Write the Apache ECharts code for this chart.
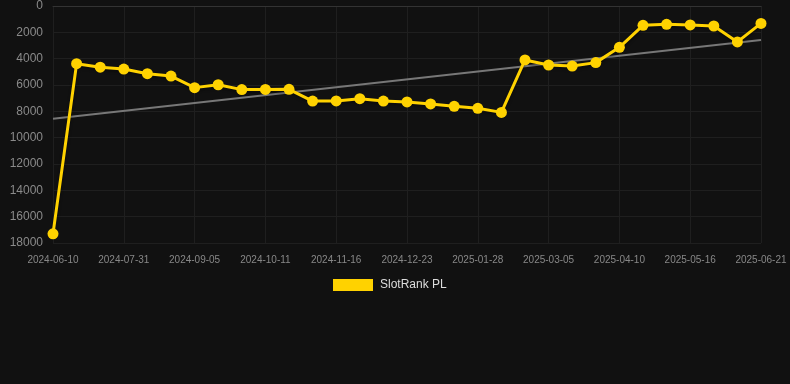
<!DOCTYPE html>
<html>
<head>
<meta charset="utf-8">
<script src="https://cdn.jsdelivr.net/npm/echarts@6/dist/echarts.min.js"></script>
<style>
html,body{margin:0;padding:0;background:#111111;}
#c{width:790px;height:384px;}
</style>
</head>
<body>
<div id="c"></div>
<script>
var categories = ['2024-06-10','2024-07-07','2024-07-19','2024-07-31','2024-08-12','2024-08-24','2024-09-05','2024-09-17','2024-09-29','2024-10-11','2024-10-23','2024-11-04','2024-11-16','2024-11-28','2024-12-11','2024-12-23','2025-01-04','2025-01-16','2025-01-28','2025-02-09','2025-02-21','2025-03-05','2025-03-17','2025-03-29','2025-04-10','2025-04-22','2025-05-04','2025-05-16','2025-05-28','2025-06-09','2025-06-21'];
var rankValues = [17300,4380,4650,4790,5140,5320,6200,5980,6350,6340,6330,7220,7210,7040,7220,7290,7440,7620,7770,8080,4100,4480,4560,4300,3140,1470,1390,1440,1520,2730,1320];
var trendValues = [8560, 2580];
var yTicks = {min:0, max:18000, interval:2000};
var seriesName = 'SlotRank PL';

var chart = echarts.init(document.getElementById('c'), null, {renderer:'canvas'});
chart.setOption({
  backgroundColor:'#111111',
  animation:false,
  grid:{left:53, right:29, top:6, bottom:141},
  legend:{
    data:[seriesName], bottom:88, left:328,
    itemWidth:40, itemHeight:12, icon:'rect',
    textStyle:{color:'#dddddd', fontSize:12, padding:[0,0,0,2], fontFamily:'Liberation Sans, Arial, sans-serif'}
  },
  xAxis:{
    type:'category', data:categories, boundaryGap:false,
    axisLine:{show:true, lineStyle:{color:'#333333'}},
    axisTick:{show:false},
    axisLabel:{interval:2, color:'#888888', fontSize:10, margin:12, fontFamily:'Liberation Sans, Arial, sans-serif'},
    splitLine:{show:true, interval:2, lineStyle:{color:'#1f1f1f'}}
  },
  yAxis:{
    type:'value', inverse:true, min:yTicks.min, max:yTicks.max, interval:yTicks.interval,
    axisLine:{show:false}, axisTick:{show:false},
    axisLabel:{color:'#8a8a8a', fontSize:12, margin:10, fontFamily:'Liberation Sans, Arial, sans-serif',
      formatter:function(v){return String(v);}},
    splitLine:{show:true, lineStyle:{color:'#1f1f1f'}}
  },
  series:[
    {
      name:'trend', type:'line', silent:true,
      data:[[categories[0], trendValues[0]],[categories[categories.length-1], trendValues[1]]],
      symbol:'none', lineStyle:{color:'#777777', width:2}, z:1
    },
    {
      name:seriesName, type:'line', data:rankValues,
      symbol:'circle', symbolSize:11,
      itemStyle:{color:'#FFD200'},
      lineStyle:{color:'#FFD200', width:3, shadowColor:'rgba(0,0,0,0.4)', shadowBlur:3, shadowOffsetY:2},
      z:3
    }
  ]
});
</script>
</body>
</html>
